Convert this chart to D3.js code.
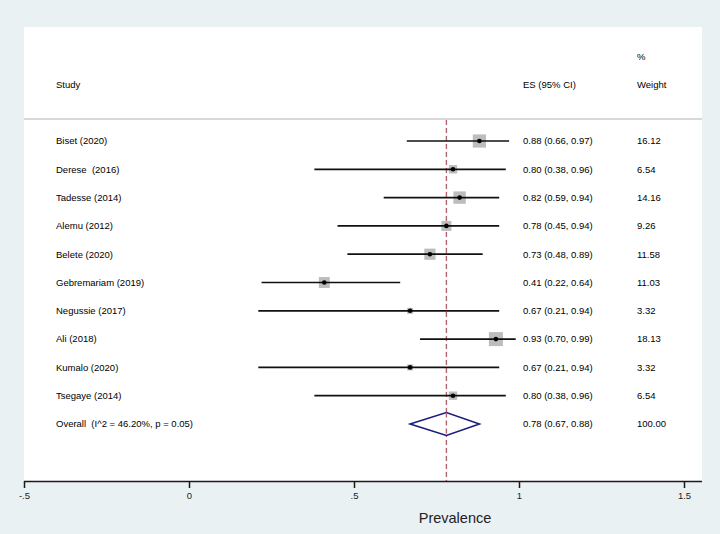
<!DOCTYPE html>
<html>
<head>
<meta charset="utf-8">
<script src="https://cdn.jsdelivr.net/npm/d3@7"></script>
<style>
  body { margin: 0; background: #eaf1f3; }
  text { font-family: "Liberation Sans", Arial, sans-serif; }
</style>
</head>
<body>
<div class="forest"></div>
<script>
var width = 720;
var height = 534;

var studies = ['Biset (2020)', 'Derese  (2016)', 'Tadesse (2014)', 'Alemu (2012)',
    'Belete (2020)', 'Gebremariam (2019)', 'Negussie (2017)', 'Ali (2018)',
    'Kumalo (2020)', 'Tsegaye (2014)'];
var es = [0.88, 0.80, 0.82, 0.78, 0.73, 0.41, 0.67, 0.93, 0.67, 0.80];
var lower = [0.66, 0.38, 0.59, 0.45, 0.48, 0.22, 0.21, 0.70, 0.21, 0.38];
var upper = [0.97, 0.96, 0.94, 0.94, 0.89, 0.64, 0.94, 0.99, 0.94, 0.96];
var weights = [16.12, 6.54, 14.16, 9.26, 11.58, 11.03, 3.32, 18.13, 3.32, 6.54];

var overallLabel = 'Overall  (I^2 = 46.20%, p = 0.05)';
var overall = {es: 0.78, lower: 0.67, upper: 0.88, weight: 100.00};

var xTicks = [-0.5, 0, 0.5, 1, 1.5];
var xTickLabels = ['-.5', '0', '.5', '1', '1.5'];

var rows = studies.map(function(s, i) {
    return {study: s, es: es[i], lo: lower[i], hi: upper[i], w: weights[i]};
});

var svg = d3.select(".forest")
    .append("svg")
    .attr("width", width)
    .attr("height", height);

svg.append("rect")
    .attr("x", 0).attr("y", 0)
    .attr("width", width).attr("height", height)
    .attr("fill", "#eaf1f3");

// white plot panel
svg.append("rect")
    .attr("x", 24).attr("y", 27)
    .attr("width", 678).attr("height", 454)
    .attr("fill", "white");

var x = d3.scaleLinear().domain([-0.5, 1.5]).range([24, 684]);
var y = d3.scaleLinear().domain([0, 10]).range([141, 424]);
var side = d3.scaleSqrt().domain([0, 18.13]).range([0, 14]);

var fs = "9.5px";

// header
svg.append("text").attr("x", 56).attr("y", 85).attr("dy", "0.35em")
    .style("font-size", fs).text("Study");
svg.append("text").attr("x", 523).attr("y", 85).attr("dy", "0.35em")
    .style("font-size", fs).text("ES (95% CI)");
svg.append("text").attr("x", 637).attr("y", 57).attr("dy", "0.35em")
    .style("font-size", fs).text("%");
svg.append("text").attr("x", 637).attr("y", 85).attr("dy", "0.35em")
    .style("font-size", fs).text("Weight");

svg.append("line")
    .attr("x1", 24).attr("x2", 702)
    .attr("y1", 119).attr("y2", 119)
    .attr("stroke", "#d8d8d8")
    .attr("stroke-width", 2);

// overall dashed line
svg.append("line")
    .attr("x1", x(overall.es)).attr("x2", x(overall.es))
    .attr("y1", 120).attr("y2", 481)
    .attr("stroke", "#b26572")
    .attr("stroke-width", 1.4)
    .attr("stroke-dasharray", "5,3");

var g = svg.selectAll(".row")
    .data(rows)
    .enter().append("g")
    .attr("class", "row");

g.append("rect")
    .attr("x", function(d) { return x(d.es) - side(d.w) / 2; })
    .attr("y", function(d, i) { return y(i) - side(d.w) / 2; })
    .attr("width", function(d) { return side(d.w); })
    .attr("height", function(d) { return side(d.w); })
    .attr("fill", "#bdbdbd");

g.append("line")
    .attr("x1", function(d) { return x(d.lo); })
    .attr("x2", function(d) { return x(d.hi); })
    .attr("y1", function(d, i) { return y(i); })
    .attr("y2", function(d, i) { return y(i); })
    .attr("stroke", "#111")
    .attr("stroke-width", 1.7);

g.append("circle")
    .attr("cx", function(d) { return x(d.es); })
    .attr("cy", function(d, i) { return y(i); })
    .attr("r", 2.3)
    .attr("fill", "black");

g.append("text")
    .attr("x", 56)
    .attr("y", function(d, i) { return y(i); })
    .attr("dy", "0.35em")
    .attr("xml:space", "preserve")
    .style("white-space", "pre")
    .style("font-size", fs)
    .text(function(d) { return d.study; });

g.append("text")
    .attr("x", 523)
    .attr("y", function(d, i) { return y(i); })
    .attr("dy", "0.35em")
    .style("font-size", fs)
    .text(function(d) {
        return d.es.toFixed(2) + " (" + d.lo.toFixed(2) + ", " + d.hi.toFixed(2) + ")";
    });

g.append("text")
    .attr("x", 637)
    .attr("y", function(d, i) { return y(i); })
    .attr("dy", "0.35em")
    .style("font-size", fs)
    .text(function(d) { return d.w.toFixed(2); });

// overall row
var oy = y(10);
var dh = 11.5;
svg.append("path")
    .attr("d", "M" + x(overall.lower) + "," + oy +
        "L" + x(overall.es) + "," + (oy - dh) +
        "L" + x(overall.upper) + "," + oy +
        "L" + x(overall.es) + "," + (oy + dh) + "Z")
    .attr("fill", "white")
    .attr("stroke", "#1c1c80")
    .attr("stroke-width", 1.6);

svg.append("line")
    .attr("x1", x(overall.es)).attr("x2", x(overall.es))
    .attr("y1", oy - dh).attr("y2", oy + dh)
    .attr("stroke", "#b26572")
    .attr("stroke-width", 1.4)
    .attr("stroke-dasharray", "5,3");

svg.append("text").attr("x", 56).attr("y", oy).attr("dy", "0.35em")
    .style("white-space", "pre").style("font-size", fs).text(overallLabel);
svg.append("text").attr("x", 523).attr("y", oy).attr("dy", "0.35em")
    .style("font-size", fs)
    .text(overall.es.toFixed(2) + " (" + overall.lower.toFixed(2) + ", " + overall.upper.toFixed(2) + ")");
svg.append("text").attr("x", 637).attr("y", oy).attr("dy", "0.35em")
    .style("font-size", fs).text(overall.weight.toFixed(2));

// x axis
var xAxis = d3.axisBottom(x)
    .tickValues(xTicks)
    .tickFormat(function(d, i) { return xTickLabels[i]; })
    .tickSize(7)
    .tickPadding(4)
    .tickSizeOuter(0);

var ax = svg.append("g")
    .attr("class", "x axis")
    .attr("transform", "translate(0,481)")
    .call(xAxis);
ax.select(".domain")
    .attr("d", "M24,0.5H702")
    .attr("stroke", "#1a1a1a")
    .attr("stroke-width", 1.5);
ax.selectAll(".tick line").attr("stroke", "#1a1a1a").attr("stroke-width", 1.5);
ax.selectAll(".tick text")
    .style("font-family", "'Liberation Sans', Arial, sans-serif")
    .style("font-size", fs)
    .attr("fill", "#222");

svg.append("text")
    .attr("x", 455).attr("y", 518)
    .attr("dy", "0.35em")
    .attr("text-anchor", "middle")
    .style("font-size", "14.5px")
    .attr("fill", "#222")
    .text("Prevalence");
</script>
</body>
</html>
